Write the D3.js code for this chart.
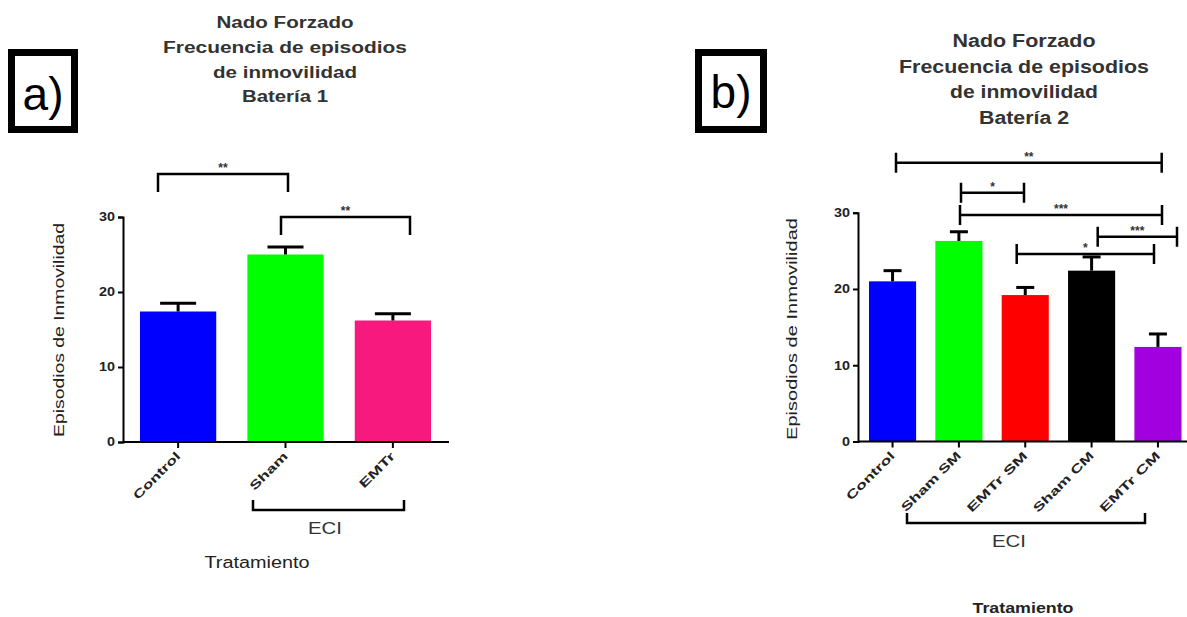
<!DOCTYPE html>
<html><head><meta charset="utf-8">
<script src="https://cdn.jsdelivr.net/npm/d3@7"></script>
<style>
body{margin:0;background:#fff;}
svg text{font-family:"Liberation Sans",Arial,sans-serif;}
</style></head>
<body><svg id="c" width="1187" height="617"></svg>
<script>
// ---- Data ----
const catsA = ["Control","Sham","EMTr"];
const meansA = [17.4, 25.0, 16.2];
const semA = [1.1, 1.0, 0.9];
const colorsA = ["#0000ff","#00ff00","#f8197f"];

const catsB = ["Control","Sham SM","EMTr SM","Sham CM","EMTr CM"];
const meansB = [21.0, 26.3, 19.2, 22.4, 12.4];
const semB = [1.4, 1.2, 1.0, 1.8, 1.7];
const colorsB = ["#0000ff","#00ff00","#ff0000","#000000","#a300e0"];

const yTicks = [0,10,20,30];
const titleA = ["Nado Forzado","Frecuencia de episodios","de inmovilidad","Batería 1"];
const titleB = ["Nado Forzado","Frecuencia de episodios","de inmovilidad","Batería 2"];
const yLabel = "Episodios de Inmovilidad";
const xLabel = "Tratamiento";
const groupLabel = "ECI";
// significance comparisons: [from, to, label]
const sigA = [["Control","Sham","**"],["Sham","EMTr","**"]];
const sigB = [["Control","EMTr CM","**"],["Sham SM","EMTr SM","*"],["Sham SM","EMTr CM","***"],["Sham CM","right","***"],["EMTr SM","EMTr CM","*"]];

const svg = d3.select("#c");

function panel(o){
  const g = svg.append("g");
  const x = d3.scaleBand().domain(o.cats).range(o.barRange).paddingInner(o.pad).paddingOuter(0);
  const y = d3.scaleLinear().domain([0,30]).range([o.y0,o.y30]);
  // label box
  g.append("rect").attr("x",o.box[0]).attr("y",o.box[1]).attr("width",o.box[2]).attr("height",o.box[3])
    .attr("fill","none").attr("stroke","#000").attr("stroke-width",7);
  g.append("text").attr("x",o.box[0]+o.box[2]/2).attr("y",o.boxBase).attr("text-anchor","middle")
    .attr("font-size",46).attr("fill","#000").text(o.letter);
  // title
  o.title.forEach((t,i)=>{
    g.append("text").attr("x",o.tx).attr("y",o.tys[i]).attr("text-anchor","middle")
      .attr("font-size",o.tfs).attr("font-weight","bold").attr("fill","#333")
      .attr("textLength",o.tw[i]).attr("lengthAdjust","spacingAndGlyphs").text(t);
  });
  // bars
  g.selectAll("rect.bar").data(o.means).join("rect").attr("class","bar")
    .attr("x",(d,i)=>x(o.cats[i])).attr("width",x.bandwidth())
    .attr("y",d=>y(d)).attr("height",d=>y(0)-y(d)).attr("fill",(d,i)=>o.colors[i]);
  // error bars
  o.means.forEach((m,i)=>{
    const cx = x(o.cats[i])+x.bandwidth()/2;
    g.append("line").attr("x1",cx).attr("x2",cx).attr("y1",y(m)).attr("y2",y(m+o.sem[i]))
      .attr("stroke","#000").attr("stroke-width",3);
    g.append("line").attr("x1",cx-o.cap).attr("x2",cx+o.cap).attr("y1",y(m+o.sem[i])).attr("y2",y(m+o.sem[i]))
      .attr("stroke","#000").attr("stroke-width",3);
  });
  // y axis
  const ya = g.append("g").attr("transform",`translate(${o.ax},0)`)
    .call(d3.axisLeft(y).tickValues(yTicks).tickSize(5).tickPadding(3));
  ya.select(".domain").attr("stroke","#000").attr("stroke-width",2);
  ya.selectAll(".tick line").attr("stroke","#000").attr("stroke-width",2);
  ya.selectAll(".tick text").attr("font-size",12).attr("font-weight","bold").attr("fill","#222")
    .attr("textLength",d=>String(d).length*8).attr("lengthAdjust","spacingAndGlyphs")
    .attr("font-family","Liberation Sans, Arial, sans-serif");
  // x axis
  const xa = g.append("g").attr("transform",`translate(0,${o.y0})`)
    .call(d3.axisBottom(x).tickSize(6).tickFormat(""));
  xa.select(".domain").remove();
  g.append("line").attr("x1",o.ax).attr("x2",o.xEnd).attr("y1",o.y0).attr("y2",o.y0)
    .attr("stroke","#000").attr("stroke-width",2);
  xa.selectAll(".tick line").attr("stroke","#000").attr("stroke-width",2);
  o.cats.forEach((c,i)=>{
    const cx = x(c)+x.bandwidth()/2;
    g.append("text").attr("transform",`translate(${cx+3},${o.y0+15}) rotate(-45)`)
      .attr("text-anchor","end").attr("font-size",12).attr("font-weight","bold").attr("fill","#222")
      .attr("textLength",o.lw[i]).attr("lengthAdjust","spacingAndGlyphs").text(c);
  });
  // y label
  g.append("text").attr("transform",`translate(${o.ylx},${o.yly}) rotate(-90)`)
    .attr("text-anchor","middle").attr("font-size",15).attr("fill","#222")
    .attr("textLength",o.ylw).attr("lengthAdjust","spacingAndGlyphs").text(yLabel);
  // ECI bracket
  const e = o.eci;
  g.append("path").attr("d",`M${e[0]},${e[2]-10}V${e[2]}H${e[1]}V${e[2]-10}`)
    .attr("fill","none").attr("stroke","#000").attr("stroke-width",2.5);
  g.append("text").attr("x",o.eciX).attr("y",o.eciY).attr("text-anchor","middle")
    .attr("font-size",17).attr("fill","#333").attr("textLength",34).attr("lengthAdjust","spacingAndGlyphs").text(groupLabel);
  g.append("text").attr("x",o.trX).attr("y",o.trY).attr("text-anchor","middle")
    .attr("font-size",o.trFs).attr("font-weight",o.trW).attr("fill","#222")
    .attr("textLength",o.trLen).attr("lengthAdjust","spacingAndGlyphs").text(xLabel);
  // significance
  o.sig.forEach((s,k)=>{
    const yy = o.sigY[k];
    const x1 = o.sigX[k][0], x2 = o.sigX[k][1];
    if(o.sigStyle==="down"){
      g.append("path").attr("d",`M${x1},${yy+18}V${yy}H${x2}V${yy+18}`)
        .attr("fill","none").attr("stroke","#000").attr("stroke-width",2.5);
    } else {
      g.append("path").attr("d",`M${x1},${yy-10}V${yy+10}M${x1},${yy}H${x2}M${x2},${yy-10}V${yy+10}`)
        .attr("fill","none").attr("stroke","#000").attr("stroke-width",2.5);
    }
    g.append("text").attr("x",(x1+x2)/2).attr("y",yy-2).attr("text-anchor","middle")
      .attr("font-size",12).attr("font-weight","bold").attr("fill","#333").text(s[2]);
  });
}

panel({cats:catsA, means:meansA, sem:semA, colors:colorsA, barRange:[140,431], pad:0.29,
  y0:442, y30:217, ax:123, xEnd:449, cap:18,
  box:[11.5,52.5,63,77], boxBase:110, letter:"a)",
  title:titleA, tx:285, tys:[28,53,78,102], tfs:16, tw:[137,244,144,86],
  lw:[61,48,45], ylx:64, yly:330, ylw:214,
  eci:[253,404,510], eciX:325, eciY:534, trX:257, trY:568, trFs:16, trW:"normal", trLen:105,
  sig:sigA, sigStyle:"down", sigY:[174,217], sigX:[[158,288],[281,410]]});

panel({cats:catsB, means:meansB, sem:semB, colors:colorsB, barRange:[869,1181.5], pad:0.29,
  y0:441.5, y30:212.7, ax:858, xEnd:1187, cap:9,
  box:[698.5,52.5,65,77], boxBase:108, letter:"b)",
  title:titleB, tx:1024, tys:[47,73,98,124], tfs:18, tw:[143,250,148,90],
  lw:[63,79,80,80,80], ylx:797, yly:329, ylw:222,
  eci:[907,1145,523], eciX:1009, eciY:547, trX:1023, trY:613, trFs:14, trW:"bold", trLen:101,
  sig:sigB, sigStyle:"flat", sigY:[162.7,192.7,215,236.7,254],
  sigX:[[896,1161.7],[961,1024],[960,1162],[1097.7,1177],[1016.7,1154]]});
</script></body></html>
